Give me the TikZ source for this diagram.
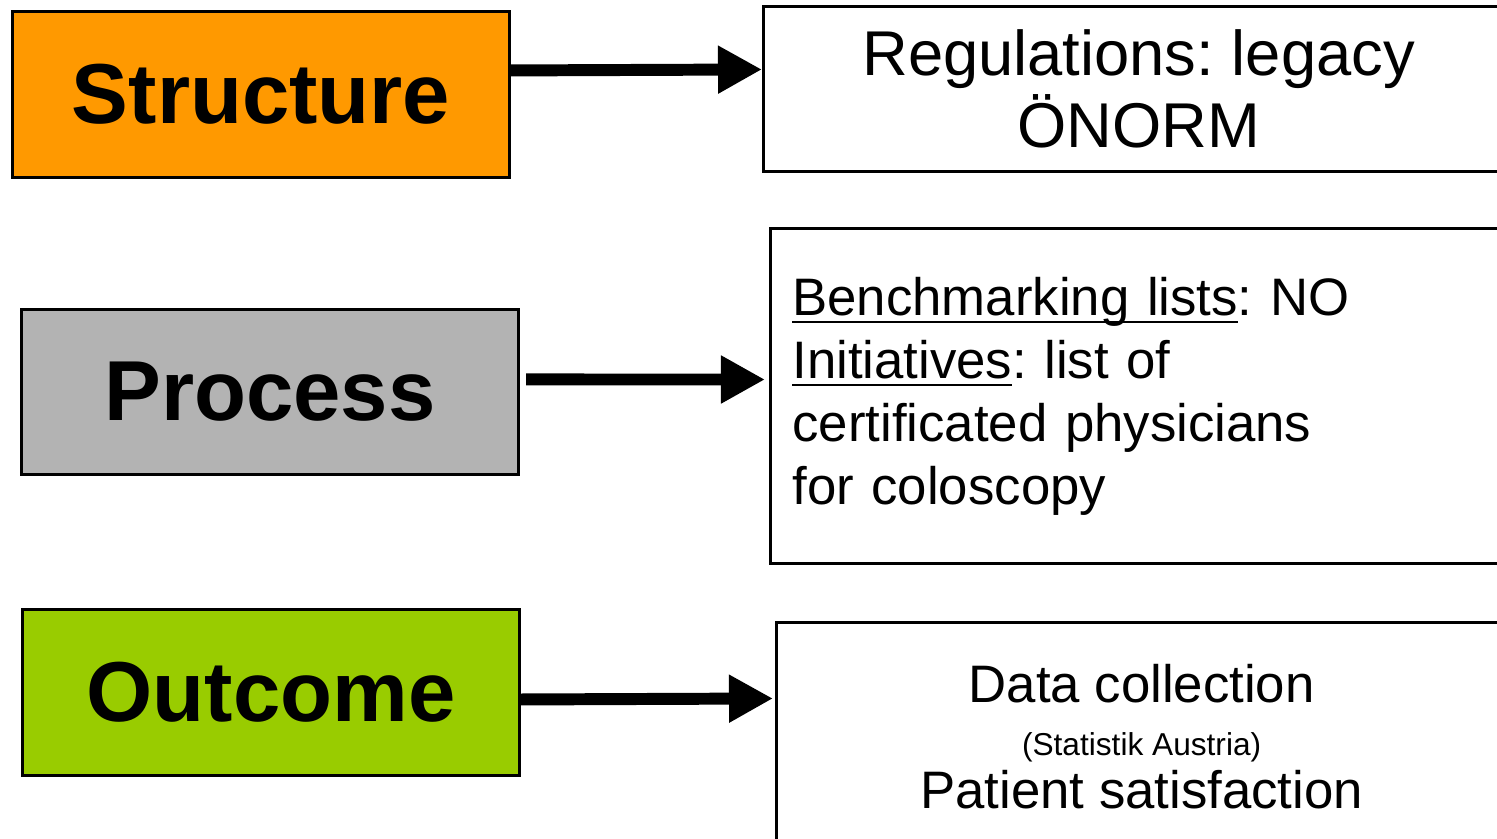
\documentclass[tikz,border=0pt]{standalone}
\usepackage{fontspec}
\setmainfont{Liberation Sans}
\usetikzlibrary{arrows.meta}

\definecolor{structorange}{HTML}{FF9900}
\definecolor{procgray}{HTML}{B3B3B3}
\definecolor{outcgreen}{HTML}{99CC00}

% underline set just below the baseline
\newcommand{\ulin}[1]{\leavevmode\setbox0\hbox{#1}\rlap{\rule[-2.3pt]{\wd0}{0.7pt}}\box0}
\frenchspacing

\tikzset{
  catbox/.style={draw, line width=0.8pt, anchor=north west, inner sep=0pt,
    minimum width=4.97cm, minimum height=1.66cm,
    font=\bfseries\fontsize{24.2}{26}\selectfont},
  infobox/.style={draw, line width=0.8pt, anchor=north west, inner sep=0pt},
  arr/.style={line width=3.4pt, -{Triangle[length=0.44cm,width=0.45cm]}}
}

\begin{document}
\begin{tikzpicture}[x=0.01cm, y=-0.01cm]
\useasboundingbox (0,0) rectangle (1497,838);

% left column
\node[catbox, fill=structorange] (struct) at (11,10) {Structure};
\node[catbox, fill=procgray, minimum height=1.65cm] (proc) at (20,308) {Process};
\node[catbox, fill=outcgreen] (outc) at (21,608) {Outcome};

% right column
\node[infobox, minimum width=7.5cm, minimum height=1.65cm, align=center,
  font=\fontsize{18}{20.7}\selectfont] (reg) at (762,5)
  {Regulations: legacy\\ÖNORM};
\node[infobox, text width=7.0cm, inner xsep=0.22cm, minimum height=3.35cm, align=left,
  font=\fontsize{15}{17.9}\selectfont] (bench) at (769,227)
  {\ulin{Benchmarking lists}: NO\\\ulin{Initiatives}: list of\\certificated physicians\\for coloscopy};
\node[infobox, minimum width=7.3cm, minimum height=2.28cm, align=center,
  font=\fontsize{15}{15}\selectfont] (data) at (775,621)
  {Data collection\\{\fontsize{9}{15}\selectfont (Statistik Austria)}\\Patient satisfaction};

% arrows
\draw[arr] ([yshift=.24cm]struct.east) -- ([yshift=.195cm]reg.west);
\draw[arr] ([xshift=.06cm,yshift=.125cm]proc.east) -- ([xshift=-.04cm,yshift=.165cm]bench.west);
\draw[arr] ([yshift=-.07cm]outc.east) -- ([xshift=-.02cm,yshift=.38cm]data.west);
\end{tikzpicture}
\end{document}
